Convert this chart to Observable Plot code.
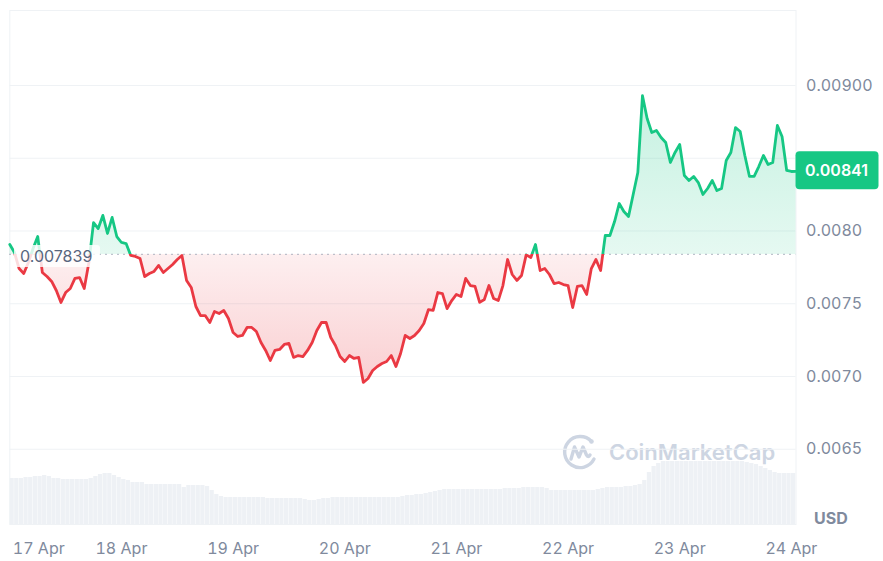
<!DOCTYPE html>
<html>
<head>
<meta charset="utf-8">
<script src="https://cdn.jsdelivr.net/npm/d3@7"></script>
<script src="https://cdn.jsdelivr.net/npm/@observablehq/plot@0.6"></script>
<style>
  html, body { margin: 0; padding: 0; background: #ffffff; }
  #wrap { position: relative; width: 883px; height: 561px; overflow: hidden; font-family: Inter, sans-serif; }
  #wrap > svg { position: absolute; left: 0; top: 0; }
</style>
</head>
<body>
<div id="wrap"></div>
<script>
// ---------- data ----------
const startTime = "2024-04-17T00:00:00Z";      // first hourly point
const baselinePrice = 0.007839;                  // dotted reference line
const lastPrice = 0.00841;                       // badge value

// hourly price (USD)
const price = [
  0.007907, 0.007852, 0.007742, 0.007708, 0.007784, 0.007880, 0.007962, 0.007715, 0.007687, 0.007653,
  0.007591, 0.007509, 0.007577, 0.007605, 0.007674, 0.007680, 0.007605, 0.007784, 0.008058, 0.008017,
  0.008107, 0.007983, 0.008093, 0.007962, 0.007921, 0.007914, 0.007832, 0.007825, 0.007811, 0.007687,
  0.007708, 0.007722, 0.007763, 0.007715, 0.007742, 0.007770, 0.007804, 0.007832, 0.007660, 0.007612,
  0.007481, 0.007419, 0.007419, 0.007371, 0.007447, 0.007433, 0.007454, 0.007399, 0.007302, 0.007275,
  0.007282, 0.007337, 0.007337, 0.007309, 0.007234, 0.007179, 0.007110, 0.007179, 0.007186, 0.007220,
  0.007227, 0.007131, 0.007144, 0.007137, 0.007179, 0.007234, 0.007316, 0.007371, 0.007371, 0.007268,
  0.007213, 0.007137, 0.007103, 0.007144, 0.007124, 0.007131, 0.006959, 0.006986, 0.007041, 0.007069,
  0.007089, 0.007103, 0.007144, 0.007069, 0.007158, 0.007282, 0.007261, 0.007282, 0.007316, 0.007364,
  0.007460, 0.007454, 0.007577, 0.007570, 0.007467, 0.007522, 0.007564, 0.007550, 0.007674, 0.007625,
  0.007619, 0.007509, 0.007529, 0.007625, 0.007536, 0.007522, 0.007625, 0.007804, 0.007701, 0.007660,
  0.007694, 0.007836, 0.007818, 0.007907, 0.007728, 0.007742, 0.007701, 0.007639, 0.007646, 0.007632,
  0.007625, 0.007474, 0.007619, 0.007625, 0.007564, 0.007742, 0.007804, 0.007728, 0.007969, 0.007969,
  0.008065, 0.008189, 0.008134, 0.008100, 0.008251, 0.008402, 0.008930, 0.008773, 0.008677, 0.008691,
  0.008643, 0.008608, 0.008471, 0.008540, 0.008595, 0.008381, 0.008347, 0.008375, 0.008333, 0.008251,
  0.008292, 0.008347, 0.008278, 0.008292, 0.008485, 0.008540, 0.008711, 0.008684, 0.008519, 0.008375,
  0.008375, 0.008443, 0.008519, 0.008457, 0.008471, 0.008725, 0.008650, 0.008416, 0.008409, 0.008410
];

// hourly volume (relative units)
const volume = [
  46, 46, 46, 47, 47, 48, 48, 49, 48, 46,
  46, 45, 45, 45, 45, 45, 45, 46, 48, 50,
  51, 51, 49, 47, 45, 44, 42, 42, 42, 40,
  40, 40, 40, 40, 40, 40, 40, 37, 39, 39,
  39, 39, 38, 34, 30, 28, 27, 27, 27, 27,
  27, 27, 27, 27, 27, 26, 26, 26, 26, 26,
  26, 26, 26, 25, 24, 24, 25, 26, 26, 27,
  27, 27, 27, 27, 27, 27, 27, 27, 27, 27,
  27, 27, 27, 27, 28, 29, 29, 30, 30, 31,
  32, 33, 34, 35, 35, 35, 35, 35, 35, 35,
  35, 35, 35, 35, 35, 35, 36, 36, 36, 36,
  37, 37, 37, 37, 37, 36, 34, 34, 34, 34,
  34, 34, 34, 34, 34, 34, 35, 36, 37, 37,
  37, 37, 38, 38, 39, 40, 44, 52, 58, 61,
  63, 63, 63, 63, 63, 63, 63, 63, 63, 63,
  63, 63, 63, 63, 63, 63, 63, 63, 62, 61,
  60, 58, 56, 54, 52, 51, 51, 51, 51, 51
];

const xTickDates = ["2024-04-17", "2024-04-18", "2024-04-19", "2024-04-20", "2024-04-21", "2024-04-22", "2024-04-23", "2024-04-24"];
const xTickLabels = ["17 Apr", "18 Apr", "19 Apr", "20 Apr", "21 Apr", "22 Apr", "23 Apr", "24 Apr"];
const yGridTicks = [0.0065, 0.0070, 0.0075, 0.0080, 0.0085, 0.0090];
const yTicks = [0.0065, 0.0070, 0.0075, 0.0080, 0.0090];          // 0.0085 sits under the price badge
const yTickLabels = ["0.0065", "0.0070", "0.0075", "0.0080", "0.00900"];

// ---------- build ----------
(function () {
const GREEN = "#16c784", RED = "#ea3943", AXIS = "#808a9d", GRID = "#eff2f5";
const t0 = new Date(startTime).getTime();
const rows = price.map((p, i) => ({date: new Date(t0 + i * 3600e3), price: p, volume: volume[i]}));
const xDomain = [rows[0].date, rows[rows.length - 1].date];
const xTicks = xTickDates.map(s => new Date(s + "T00:00:00Z"));
const xLabel = new Map(xTicks.map((d, i) => [+d, xTickLabels[i]]));
const yLabel = new Map(yTicks.map((v, i) => [v, yTickLabels[i]]));

const W = 883, H = 561, ML = 9.3, MR = 87.5, MT = 10, MB = 37;

// volume layer (its own scale, behind the price chart)
const vol = Plot.plot({
  width: W, height: H, marginLeft: ML, marginRight: MR, marginTop: 424, marginBottom: MB,
  style: {background: "transparent", overflow: "visible"},
  x: {type: "utc", domain: xDomain, axis: null},
  y: {domain: [0, 100], axis: null},
  marks: [
    Plot.rectY(rows, {x: "date", y: "volume", interval: "hour", fill: "#eef1f5", insetLeft: 0.2, insetRight: 0.2, clip: true})
  ]
});

const main = Plot.plot({
  width: W, height: H, marginLeft: ML, marginRight: MR, marginTop: MT, marginBottom: MB,
  style: {background: "transparent", fontFamily: "Inter, sans-serif", fontSize: "16px", overflow: "visible"},
  x: {type: "utc", domain: xDomain, label: null},
  y: {domain: [0.0059827, 0.0095155], label: null},
  marks: [
    Plot.gridY({ticks: yGridTicks, stroke: GRID, strokeOpacity: 1, strokeWidth: 1}),
    Plot.frame({stroke: GRID, strokeWidth: 1}),
    Plot.areaY(rows, {x: "date", y1: baselinePrice, y2: "price", fill: "url(#cmc-fill)"}),
    Plot.ruleY([baselinePrice], {stroke: "#a3abba", strokeWidth: 1.4, strokeDasharray: "1.4 4.6"}),
    Plot.lineY(rows, {x: "date", y: "price", stroke: "url(#cmc-line)", strokeWidth: 2.8, strokeLinejoin: "round", strokeLinecap: "round"}),
    Plot.axisY({anchor: "right", ticks: yTicks, tickFormat: d => yLabel.get(d), tickSize: 0, tickPadding: 10,
      textAnchor: "start", fill: AXIS, fontSize: 16, label: null}),
    Plot.axisX({ticks: xTicks.slice(1), tickFormat: d => xLabel.get(+d), tickSize: 0, tickPadding: 18,
      fill: AXIS, fontSize: 16, label: null}),
    Plot.axisX({ticks: xTicks.slice(0, 1), tickFormat: d => xLabel.get(+d), tickSize: 0, tickPadding: 18,
      textAnchor: "start", dx: 3, fill: AXIS, fontSize: 16, label: null})
  ]
});

const wrap = document.getElementById("wrap");
wrap.appendChild(vol);
wrap.appendChild(main);

// gradients keyed to the baseline position from the y scale
const ys = main.scale("y");
const yb = ys.apply(baselinePrice);
const yTop = MT, yBottom = H - MB;
const f = (yb - yTop) / (yBottom - yTop);
const svg = d3.select(main);
const defs = svg.insert("defs", ":first-child");
const lg = defs.append("linearGradient").attr("id", "cmc-line").attr("gradientUnits", "userSpaceOnUse")
  .attr("x1", 0).attr("x2", 0).attr("y1", yTop).attr("y2", yBottom);
lg.append("stop").attr("offset", f).attr("stop-color", GREEN);
lg.append("stop").attr("offset", f).attr("stop-color", RED);
const fg = defs.append("linearGradient").attr("id", "cmc-fill").attr("gradientUnits", "userSpaceOnUse")
  .attr("x1", 0).attr("x2", 0).attr("y1", yTop).attr("y2", yBottom);
fg.append("stop").attr("offset", 0).attr("stop-color", GREEN).attr("stop-opacity", 0.32);
fg.append("stop").attr("offset", f).attr("stop-color", GREEN).attr("stop-opacity", 0.11);
fg.append("stop").attr("offset", f).attr("stop-color", RED).attr("stop-opacity", 0.08);
fg.append("stop").attr("offset", 1).attr("stop-color", RED).attr("stop-opacity", 0.42);

const txt = (sel) => sel.attr("text-anchor", "start").attr("font-family", "Inter, sans-serif");

// baseline value label with translucent box
const lab = svg.append("g");
lab.append("rect").attr("x", 14).attr("y", yb - 9).attr("width", 86).attr("height", 22).attr("rx", 3)
  .attr("fill", "#ffffff").attr("fill-opacity", 0.82);
txt(lab.append("text")).attr("x", 20).attr("y", yb + 2.6).attr("dy", "0.35em")
  .attr("fill", "#58667e").attr("font-size", 16)
  .text(String(baselinePrice));

// current price badge
const yl = ys.apply(lastPrice);
const badge = svg.append("g");
badge.append("rect").attr("x", W - MR).attr("y", yl - 19.5).attr("width", 83).attr("height", 38).attr("rx", 4)
  .attr("fill", GREEN);
txt(badge.append("text")).attr("x", W - MR + 9.5).attr("y", yl).attr("dy", "0.35em")
  .attr("fill", "#ffffff").attr("font-size", 16).attr("font-weight", 600)
  .text(lastPrice.toFixed(5));

// currency label
txt(svg.append("text")).attr("x", 814).attr("y", yBottom).attr("fill", AXIS).attr("font-size", 16)
  .attr("font-weight", 700).text("USD");

// watermark (on the volume layer, beneath the price line)
const wm = d3.select(vol).append("g").attr("transform", "translate(580,452)").attr("fill", "none")
  .attr("stroke", "#cdd5e2").attr("stroke-width", 3.4).attr("stroke-linecap", "round").attr("stroke-linejoin", "round");
wm.append("path").attr("d", "M 11.5 -10.5 A 15.5 15.5 0 1 0 14 7");
wm.append("path").attr("d", "M -9 7 L -5.5 -5 L -1 5 L 3 -5 L 6.5 3 Q 8 6 10 3");
wm.append("circle").attr("cx", 11.5).attr("cy", -10.5).attr("r", 0.6);
txt(d3.select(vol).append("text")).attr("x", 609).attr("y", 452).attr("dy", "0.36em")
  .attr("fill", "#cdd5e2").attr("font-size", 22).attr("font-weight", 600)
  .text("CoinMarketCap");
})();
</script>
</body>
</html>
